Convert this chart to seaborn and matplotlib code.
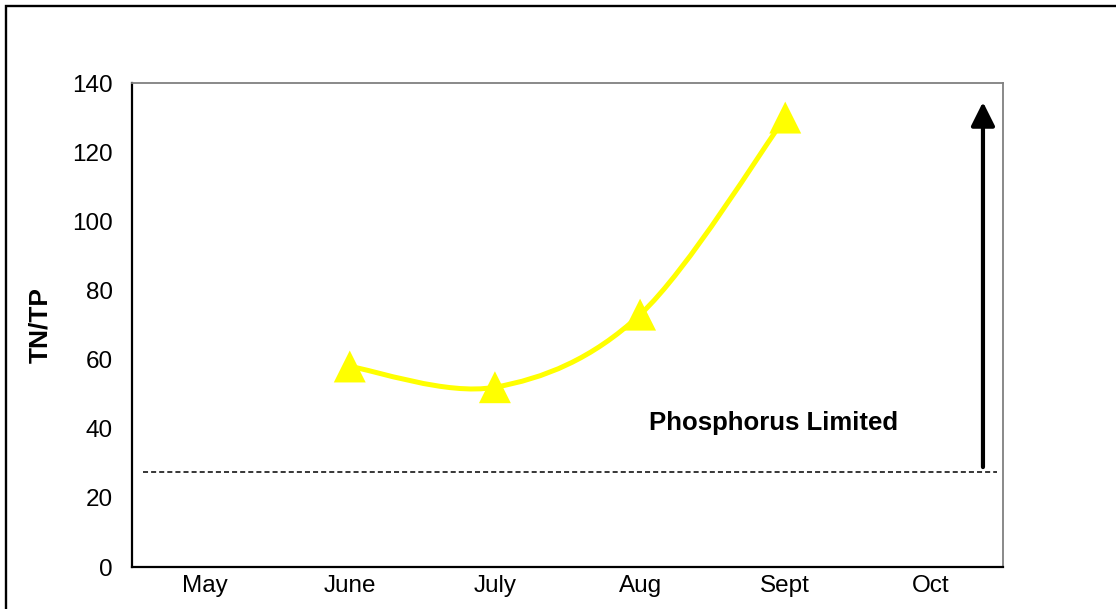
import numpy as np
import pandas as pd
import matplotlib
matplotlib.use('Agg')
import matplotlib.pyplot as plt
import seaborn as sns
from matplotlib.path import Path
from matplotlib.patches import PathPatch, Rectangle

# Data
months = ['May', 'June', 'July', 'Aug', 'Sept', 'Oct']
tn_tp = [np.nan, 58, 52, 73, 130, np.nan]
threshold = 27.5
y_ticks = [0, 20, 40, 60, 80, 100, 120, 140]

sns.set_style('white')
plt.rcParams['font.family'] = ['Liberation Sans', 'DejaVu Sans']
plt.rcParams['text.color'] = 'black'
plt.rcParams['xtick.color'] = 'black'
plt.rcParams['ytick.color'] = 'black'
plt.rcParams['axes.labelcolor'] = 'black'

df = pd.DataFrame({'pos': np.arange(len(months)), 'month': months, 'tntp': tn_tp})
pts = df.dropna()

fig = plt.figure(figsize=(11.16, 6.09), dpi=100)
ax = fig.add_axes([132 / 1116, 1 - 567 / 609, (1003 - 132) / 1116, (567 - 83) / 609])

# Smoothed line (Excel style Catmull-Rom -> cubic Bezier)
P = pts[['pos', 'tntp']].to_numpy(dtype=float)
ext = np.vstack([P[0], P, P[-1]])
verts = [tuple(P[0])]
codes = [Path.MOVETO]
for i in range(len(P) - 1):
    p0, p1, p2, p3 = ext[i], ext[i + 1], ext[i + 2], ext[i + 3]
    c1 = p1 + (p2 - p0) / 6
    c2 = p2 - (p3 - p1) / 6
    verts += [tuple(c1), tuple(c2), tuple(p2)]
    codes += [Path.CURVE4] * 3
ax.add_patch(PathPatch(Path(verts, codes), facecolor='none', edgecolor='#FFFF00',
                       lw=3.6, capstyle='round', zorder=3))

# Markers
sns.scatterplot(data=pts, x='pos', y='tntp', marker='^', s=23 ** 2, color='#FFFF00',
                edgecolor='none', ax=ax, zorder=4, legend=False)

# Threshold line
ax.plot([-0.424, 5.458], [threshold, threshold], color='black', lw=1.1,
        linestyle=(0, (3.3, 2)), zorder=2)

# Arrow and label
ax.annotate('', xy=(5.362, 134.5), xytext=(5.362, 28.9),
            arrowprops=dict(arrowstyle='-|>,head_length=0.72,head_width=0.36',
                            mutation_scale=20, lw=3, color='black',
                            shrinkA=0, shrinkB=0))
ax.text(3.92, 41.6, 'Phosphorus Limited', ha='center', va='center',
        fontsize=18.5, fontweight='bold', color='black')

# Axes styling
ax.set_xlim(-0.5, len(months) - 0.5)
ax.set_ylim(0, 140)
ax.set_yticks(y_ticks)
ax.set_xticks(np.arange(-0.5, len(months)), labels=[''] * (len(months) + 1))
ax.set_xticks(np.arange(len(months)), labels=months, minor=True)
ax.tick_params(axis='x', which='major', direction='inout', length=12, width=1.5, color='black')
ax.tick_params(axis='x', which='minor', length=0, pad=6, labelsize=17.5, labelcolor='black')
ax.tick_params(axis='y', direction='out', length=6, width=1.5, color='black', pad=8,
               labelsize=17.5, labelcolor='black')
ax.set_xlabel('')
ax.set_ylabel('TN/TP', fontsize=19, fontweight='bold', color='black')
ax.yaxis.set_label_coords(-0.091, 0.5)

for side in ['left', 'bottom']:
    ax.spines[side].set_color('black')
    ax.spines[side].set_linewidth(1.6)
for side in ['top', 'right']:
    ax.spines[side].set_color('#808080')
    ax.spines[side].set_linewidth(1.3)

# Outer chart border (runs off the right and bottom edges)
fig.patches.append(Rectangle((6 / 1116, -0.1), 1.2, 1.1 - 6.5 / 609, transform=fig.transFigure,
                             fill=False, edgecolor='black', lw=1.7))

fig.savefig('out.png', dpi=100)
